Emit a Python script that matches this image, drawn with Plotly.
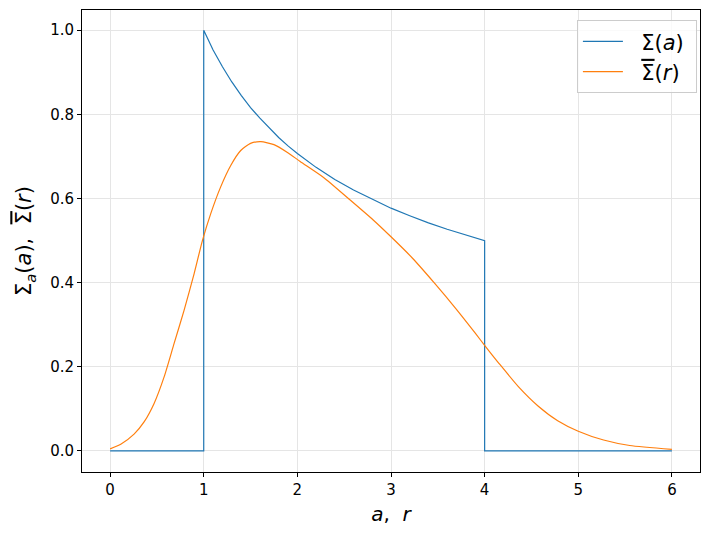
import plotly.graph_objects as go

# Blue step-like profile Σ(a)
a_vals = [0.0, 1.0, 1.0, 1.1, 1.2, 1.3, 1.4, 1.5, 1.6, 1.7, 1.8, 1.9, 2.0, 2.2, 2.4, 2.6,
          2.8, 3.0, 3.2, 3.4, 3.6, 3.8, 4.0, 4.0, 6.0]
sigma_a = [0.0, 0.0, 1.0, 0.953, 0.913, 0.877, 0.845, 0.816, 0.791, 0.767, 0.745, 0.725,
           0.707, 0.674, 0.645, 0.620, 0.598, 0.577, 0.559, 0.542, 0.527, 0.513, 0.5, 0.0, 0.0]

# Orange smoothed profile Σ̄(r)
r_vals = [0.0, 0.114, 0.256, 0.363, 0.47, 0.577, 0.683, 0.79, 0.897, 0.986, 1.075, 1.18,
          1.29, 1.395, 1.5, 1.61, 1.75, 1.89, 2.03, 2.28, 2.545, 2.81, 3.0, 3.23, 3.46,
          3.69, 3.9, 4.01, 4.15, 4.36, 4.57, 4.78, 5.0, 5.27, 5.55, 6.0]
sigma_r = [0.005, 0.016, 0.040, 0.069, 0.113, 0.176, 0.255, 0.334, 0.421, 0.500, 0.564,
           0.627, 0.679, 0.714, 0.731, 0.735, 0.728, 0.710, 0.688, 0.650, 0.600, 0.549,
           0.509, 0.458, 0.400, 0.339, 0.280, 0.248, 0.209, 0.153, 0.107, 0.072, 0.047,
           0.026, 0.013, 0.004]

x_ticks = [0, 1, 2, 3, 4, 5, 6]
y_ticks = [0.0, 0.2, 0.4, 0.6, 0.8, 1.0]
y_tick_text = ["0.0", "0.2", "0.4", "0.6", "0.8", "1.0"]

SBAR = "<span style='text-decoration:overline'>Σ</span>"

fig = go.Figure()
fig.add_trace(go.Scatter(x=a_vals, y=sigma_a, mode="lines",
                         name="&nbsp;&nbsp;Σ(<i>a</i>)&nbsp;",
                         line=dict(color="#1f77b4", width=1.2)))
fig.add_trace(go.Scatter(x=r_vals, y=sigma_r, mode="lines",
                         name="&nbsp;&nbsp;" + SBAR + "(<i>r</i>)&nbsp;",
                         line=dict(color="#ff7f0e", width=1.2, shape="spline", smoothing=0.6)))

axis_common = dict(showline=True, linecolor="black", linewidth=1, mirror=True,
                   ticks="outside", ticklen=4, tickwidth=1, tickcolor="black",
                   showgrid=True, gridcolor="#e5e5e5", gridwidth=1, zeroline=False,
                   tickfont=dict(family="DejaVu Sans", size=15, color="black"))

fig.update_layout(
    width=711, height=535,
    margin=dict(l=82, r=11, t=10, b=63),
    plot_bgcolor="white", paper_bgcolor="white",
    font=dict(family="DejaVu Sans", color="black"),
    xaxis=dict(range=[-0.3, 6.3], tickvals=x_ticks,
               title=dict(text="<i>a</i>,  <i>r</i>", font=dict(size=20), standoff=8),
               **axis_common),
    yaxis=dict(range=[-0.05, 1.048], tickvals=y_ticks, ticktext=y_tick_text,
               title=dict(text="Σ<sub><i>a</i></sub>(<i>a</i>),  " + SBAR + "(<i>r</i>)",
                          font=dict(size=21), standoff=12),
               **axis_common),
    legend=dict(x=0.995, y=0.978, xanchor="right", yanchor="top",
                bgcolor="rgba(255,255,255,0.8)", bordercolor="#cccccc", borderwidth=1,
                font=dict(family="DejaVu Sans", size=21), itemwidth=40,
                tracegroupgap=4),
    showlegend=True,
)

fig.write_html("out.html")
